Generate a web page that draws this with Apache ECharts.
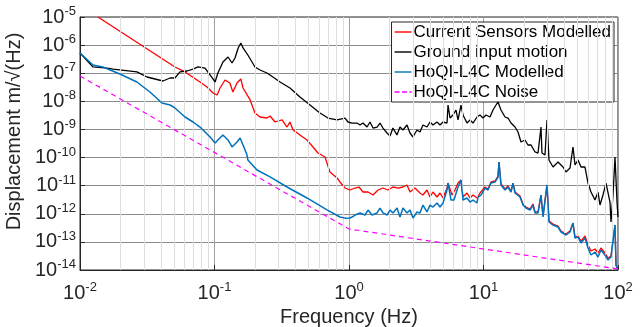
<!DOCTYPE html>
<html>
<head>
<meta charset="utf-8">
<script src="https://cdn.jsdelivr.net/npm/echarts@6/dist/echarts.min.js"></script>
<style>
  html, body { margin: 0; padding: 0; background: #fff; }
  #chart { width: 644px; height: 327px; }
</style>
</head>
<body>
<div id="chart"></div>
<script>
// [frequency (Hz), displacement m/sqrt(Hz)]
var currentSensors = [
    [0.0136, 1.0e-5], [0.0508, 1.67e-7], [0.0604, 1.11e-7], [0.078, 4.88e-8], [0.088, 3.24e-8],
    [0.0975, 1.98e-8], [0.1045, 1.68e-8], [0.110, 2.98e-8], [0.1197, 5.74e-8], [0.130, 4.49e-8],
    [0.137, 2.15e-8], [0.147, 4.49e-8], [0.157, 6.23e-8], [0.163, 2.98e-8], [0.184, 1.12e-8],
    [0.200, 3.85e-9], [0.218, 2.77e-9], [0.2455, 2.55e-9], [0.259, 3.01e-9], [0.282, 1.84e-9],
    [0.318, 2.17e-9], [0.346, 1.22e-9], [0.364, 1.84e-9], [0.384, 9.57e-10], [0.432, 6.35e-10],
    [0.487, 4.22e-10], [0.54, 2.38e-10], [0.588, 1.45e-10], [0.663, 1.05e-10], [0.722, 3.07e-11],
    [0.815, 1.88e-11], [0.857, 1.35e-11], [0.934, 8.25e-12], [1.017, 7.01e-12], [1.108, 8.25e-12],
    [1.187, 8.96e-12], [1.271, 5.95e-12], [1.385, 5.95e-12], [1.509, 4.65e-12], [1.644, 7.01e-12],
    [1.790, 8.25e-12], [1.950, 7.01e-12], [2.123, 8.96e-12], [2.313, 8.25e-12], [2.520, 8.96e-12],
    [2.699, 1.06e-11], [2.841, 5.95e-12], [3.094, 8.25e-12], [3.371, 5.48e-12], [3.548, 4.65e-12],
    [3.801, 7.01e-12], [4.001, 3.95e-12], [4.212, 5.95e-12], [4.511, 3.95e-12], [4.749, 5.48e-12],
    [4.999, 3.64e-12], [5.355, 8.25e-12], [5.447, 1.24e-11], [5.833, 4.65e-12], [6.140, 7.01e-12],
    [6.463, 1.24e-11], [6.803, 1.59e-11], [7.041, 3.95e-12], [7.542, 5.48e-12], [7.940, 3.64e-12],
    [8.358, 4.65e-12], [8.947, 3.64e-12], [9.419, 5.48e-12], [9.581, 5.48e-12], [10.26, 8.96e-12],
    [10.80, 7.60e-12], [11.37, 1.35e-11], [12.18, 1.47e-11], [12.82, 2.20e-11], [13.04, 6.94e-11],
    [13.49, 1.15e-11], [14.45, 7.60e-12], [15.21, 9.72e-12], [16.02, 6.46e-12], [16.57, 1.24e-11],
    [17.15, 5.95e-12], [18.68, 4.29e-12], [19.66, 2.23e-12], [20.70, 1.74e-12], [22.17, 1.48e-12],
    [23.34, 2.23e-12], [24.16, 1.16e-12], [25.43, 1.16e-12], [26.76, 4.65e-12], [27.70, 8.33e-13],
    [29.66, 1.06e-11], [30.69, 5.53e-13], [32.87, 4.33e-13], [35.81, 3.67e-13], [37.70, 2.44e-13],
    [41.07, 1.91e-13], [43.97, 2.44e-13], [46.29, 4.69e-13], [47.90, 1.49e-13], [50.42, 1.62e-13],
    [53.08, 1.07e-13], [56.84, 1.62e-13], [59.84, 7.74e-14], [63.00, 4.74e-14], [67.45, 5.58e-14],
    [71.01, 4.02e-14], [74.74, 6.06e-14], [80.03, 4.02e-14], [84.27, 2.67e-14], [88.72, 3.14e-14],
    [94.99, 4.0e-13], [96.62, 1.51e-14], [100, 1.0e-14]
];
var groundMotion = [
    [0.01, 5.24e-7], [0.0125, 1.67e-7], [0.0159, 1.53e-7], [0.0176, 1.41e-7], [0.0265, 1.11e-7],
    [0.0315, 7.34e-8], [0.0414, 5.29e-8], [0.0467, 6.76e-8], [0.0508, 6.76e-8], [0.0554, 1.11e-7],
    [0.0625, 1.20e-7], [0.0692, 1.41e-7], [0.0754, 1.67e-7], [0.085, 1.53e-7], [0.0927, 8.65e-8],
    [0.101, 4.88e-8], [0.106, 1.02e-7], [0.1156, 2.51e-7], [0.126, 3.78e-7], [0.135, 2.31e-7],
    [0.142, 3.48e-7], [0.150, 7.9e-7], [0.157, 1.19e-6], [0.163, 7.9e-7], [0.177, 4.45e-7],
    [0.200, 1.67e-7], [0.218, 1.30e-7], [0.2455, 1.02e-7], [0.272, 7.34e-8], [0.307, 4.88e-8],
    [0.364, 2.98e-8], [0.432, 1.43e-8], [0.513, 7.41e-9], [0.608, 3.85e-9], [0.698, 2.55e-9],
    [0.815, 2.17e-9], [0.934, 2.55e-9], [0.983, 1.84e-9], [1.053, 1.69e-9], [1.147, 1.69e-9],
    [1.207, 1.44e-9], [1.271, 1.69e-9], [1.361, 1.22e-9], [1.433, 1.84e-9], [1.509, 1.12e-9],
    [1.616, 1.22e-9], [1.701, 1.69e-9], [1.790, 1.12e-9], [1.917, 7.47e-10], [2.018, 5.84e-10],
    [2.123, 1.12e-9], [2.274, 6.34e-10], [2.394, 1.22e-9], [2.520, 9.55e-10], [2.699, 1.44e-9],
    [2.841, 7.47e-10], [2.990, 5.38e-10], [3.202, 9.55e-10], [3.371, 8.11e-10], [3.548, 1.44e-9],
    [3.801, 1.22e-9], [4.001, 1.84e-9], [4.212, 1.44e-9], [4.511, 1.84e-9], [4.749, 1.44e-9],
    [4.999, 1.84e-9], [5.355, 1.69e-9], [5.447, 7.40e-9], [5.636, 2.55e-9], [5.934, 3.26e-9],
    [6.246, 4.91e-9], [6.463, 2.17e-9], [6.803, 7.40e-9], [7.041, 3.26e-9], [7.542, 1.69e-9],
    [7.940, 2.17e-9], [8.358, 1.69e-9], [8.947, 2.77e-9], [9.419, 3.26e-9], [9.916, 2.55e-9],
    [10.44, 3.26e-9], [11.18, 2.77e-9], [11.77, 4.91e-9], [12.39, 7.40e-9], [12.82, 9.47e-9],
    [13.49, 4.91e-9], [14.45, 2.77e-9], [15.21, 2.55e-9], [16.02, 1.69e-9], [17.15, 1.22e-9],
    [18.05, 8.11e-10], [19.00, 3.57e-10], [20.35, 4.21e-10], [21.42, 2.80e-10], [22.56, 2.80e-10],
    [24.16, 1.58e-10], [25.43, 1.45e-10], [26.76, 1.22e-9], [27.22, 1.45e-10], [28.66, 1.23e-10],
    [29.66, 2.17e-9], [30.69, 8.18e-11], [32.87, 4.61e-11], [35.81, 6.94e-11], [39.01, 4.61e-11],
    [41.07, 3.06e-11], [43.97, 4.25e-11], [46.29, 2.37e-10], [47.90, 5.43e-11], [50.42, 8.18e-11],
    [53.08, 4.61e-11], [56.84, 4.61e-11], [59.84, 1.24e-11], [63.00, 5.95e-12], [67.45, 3.09e-12],
    [71.01, 5.95e-12], [73.48, 2.05e-12], [77.34, 4.65e-12], [81.42, 1.24e-11], [87.20, 2.62e-12],
    [88.72, 5.09e-13], [91.80, 4.65e-12], [94.99, 1.05e-10], [98.31, 2.62e-12], [100, 7.67e-13]
];
var hoqiModelled = [
    [0.01, 5.24e-7], [0.0125, 1.96e-7], [0.0148, 1.67e-7], [0.0198, 9.4e-8], [0.0265, 4.88e-8],
    [0.0331, 2.15e-8], [0.0407, 8.73e-9], [0.0467, 7.41e-9], [0.0508, 5.80e-9], [0.0604, 2.77e-9],
    [0.0692, 1.84e-9], [0.078, 1.22e-9], [0.0927, 5.39e-10], [0.101, 3.30e-10], [0.106, 4.22e-10],
    [0.1156, 6.35e-10], [0.126, 4.22e-10], [0.135, 2.38e-10], [0.147, 3.58e-10], [0.155, 4.97e-10],
    [0.163, 2.80e-10], [0.1745, 1.23e-10], [0.177, 8.19e-11], [0.207, 3.61e-11], [0.259, 2.04e-11],
    [0.346, 8.97e-12], [0.487, 3.65e-12], [0.686, 1.37e-12], [0.857, 7.69e-13], [0.934, 7.0e-13],
    [0.966, 6.53e-13], [1.017, 7.07e-13], [1.053, 7.67e-13], [1.108, 9.04e-13], [1.207, 1.07e-12],
    [1.315, 9.04e-13], [1.385, 1.36e-12], [1.483, 9.04e-13], [1.616, 1.07e-12], [1.701, 1.60e-12],
    [1.790, 1.07e-12], [1.917, 9.04e-13], [2.018, 1.36e-12], [2.123, 1.07e-12], [2.274, 1.60e-12],
    [2.394, 7.67e-13], [2.520, 1.60e-12], [2.699, 1.07e-12], [2.841, 1.36e-12], [2.990, 7.07e-13],
    [3.202, 1.16e-12], [3.371, 1.07e-12], [3.548, 2.05e-12], [3.801, 1.16e-12], [4.001, 2.05e-12],
    [4.212, 1.74e-12], [4.511, 2.42e-12], [4.749, 1.74e-12], [4.999, 2.42e-12], [5.355, 7.01e-12],
    [5.447, 1.24e-11], [5.734, 3.09e-12], [6.036, 3.09e-12], [6.463, 8.96e-12], [6.803, 1.59e-11],
    [7.041, 3.09e-12], [7.542, 3.64e-12], [7.940, 2.62e-12], [8.358, 3.09e-12], [8.947, 2.42e-12],
    [9.102, 3.95e-12], [9.581, 4.65e-12], [10.26, 8.25e-12], [10.80, 7.01e-12], [11.37, 1.24e-11],
    [12.18, 1.35e-11], [12.82, 2.03e-11], [13.04, 6.94e-11], [13.49, 1.06e-11], [14.45, 7.01e-12],
    [15.21, 8.96e-12], [16.02, 5.95e-12], [16.57, 1.24e-11], [17.15, 5.48e-12], [18.68, 3.95e-12],
    [19.66, 2.05e-12], [20.70, 1.60e-12], [22.17, 1.36e-12], [23.34, 2.05e-12], [24.16, 1.07e-12],
    [25.43, 1.07e-12], [26.76, 4.65e-12], [27.70, 7.67e-13], [29.66, 1.06e-11], [30.69, 5.09e-13],
    [32.87, 3.98e-13], [35.81, 3.38e-13], [37.70, 2.25e-13], [41.07, 1.76e-13], [43.97, 2.25e-13],
    [46.29, 4.69e-13], [47.90, 1.37e-13], [50.42, 1.49e-13], [53.08, 9.12e-14], [56.84, 1.37e-13],
    [59.84, 6.06e-14], [63.00, 3.41e-14], [67.45, 4.36e-14], [71.01, 2.90e-14], [74.74, 5.14e-14],
    [80.03, 3.41e-14], [84.27, 2.27e-14], [88.72, 2.90e-14], [94.99, 4.0e-13], [96.62, 1.51e-14],
    [100, 1.0e-14]
];
var hoqiNoise = [[0.01, 7.96e-8], [1, 2.88e-13], [100, 1.09e-14]];

var seriesNames = ['Current Sensors Modelled', 'Ground input motion', 'HoQI-L4C Modelled', 'HoQI-L4C Noise'];

var chart = echarts.init(document.getElementById('chart'));

// minor grid lines at 2..9 of every decade
var minorX = [], minorY = [];
for (var d = -2; d < 2; d++) {
    for (var k = 2; k < 10; k++) minorX.push({ xAxis: k * Math.pow(10, d) });
}
for (var e = -14; e < -5; e++) {
    for (var k = 2; k < 10; k++) minorY.push({ yAxis: k * Math.pow(10, e) });
}

function pow10Label(v) {
    var p = Math.round(Math.log10(v));
    return '10{s|' + p + '}';
}
var richLabel = {
    s: { fontSize: 13, fontFamily: 'Liberation Sans', color: '#262626', verticalAlign: 'top', padding: [0, 0, 11, 0] }
};

var solidIcon = 'path://M0,0H17V1.4H0Z';
var dashIcon = 'path://M0,0H5V1.4H0Z M7.5,0H12.5V1.4H7.5Z M15,0H17V1.4H15Z';

var option = {
    animation: false,
    textStyle: { fontFamily: 'Liberation Sans' },
    grid: {
        left: 80, right: 26, top: 17, bottom: 57,
        outerBoundsMode: 'none',
        show: true, borderColor: '#262626', borderWidth: 1
    },
    legend: {
        data: [
            { name: seriesNames[0], icon: solidIcon },
            { name: seriesNames[1], icon: solidIcon },
            { name: seriesNames[2], icon: solidIcon },
            { name: seriesNames[3], icon: dashIcon }
        ],
        orient: 'vertical',
        right: 30,
        top: 22,
        backgroundColor: '#fff',
        borderColor: '#262626',
        borderWidth: 1,
        borderRadius: 0,
        padding: [0, 3, 0, 3],
        itemWidth: 17,
        itemHeight: 2,
        itemGap: 0,
        textStyle: { fontSize: 17, lineHeight: 20, color: '#000', fontFamily: 'Liberation Sans', padding: [0, 0, 0, -3] }
    },
    xAxis: {
        type: 'log',
        logBase: 10,
        min: 0.01,
        max: 100,
        name: 'Frequency (Hz)',
        nameLocation: 'middle',
        nameGap: 36,
        nameTextStyle: { fontSize: 20, color: '#262626' },
        axisLine: { lineStyle: { color: '#262626' } },
        axisTick: { inside: true, length: 5, lineStyle: { color: '#262626' } },
        axisLabel: { color: '#262626', fontSize: 20, margin: 11, formatter: pow10Label, rich: richLabel },
        splitLine: { show: true, lineStyle: { color: '#a0a0a0', width: 1 } }
    },
    yAxis: {
        type: 'log',
        logBase: 10,
        min: 1e-14,
        max: 1e-5,
        interval: 1,
        name: 'Displacement m/\u221A(Hz)',
        nameLocation: 'middle',
        nameGap: 46,
        nameTextStyle: { fontSize: 20, color: '#262626', padding: [0, 0, 0, 24] },
        axisLine: { lineStyle: { color: '#262626' } },
        axisTick: { inside: true, length: 5, lineStyle: { color: '#262626' } },
        axisLabel: { color: '#262626', fontSize: 20, margin: 4, formatter: pow10Label, rich: richLabel },
        splitLine: { show: true, lineStyle: { color: '#8c8c8c', width: 1 } }
    },
    series: [
        {
            name: 'grid',
            type: 'line',
            data: [],
            z: 0,
            silent: true,
            markLine: {
                silent: true,
                symbol: 'none',
                label: { show: false },
                lineStyle: { color: '#dedede', width: 1, type: 'solid' },
                data: minorX.concat(minorY)
            }
        },
        {
            name: seriesNames[0], type: 'line', data: currentSensors, showSymbol: false, symbol: 'none',
            lineStyle: { color: '#ff0000', width: 1.3 }, itemStyle: { color: '#ff0000' }, z: 3
        },
        {
            name: seriesNames[1], type: 'line', data: groundMotion, showSymbol: false, symbol: 'none',
            lineStyle: { color: '#000000', width: 1.3 }, itemStyle: { color: '#000000' }, z: 4
        },
        {
            name: seriesNames[2], type: 'line', data: hoqiModelled, showSymbol: false, symbol: 'none',
            lineStyle: { color: '#0072bd', width: 1.5 }, itemStyle: { color: '#0072bd' }, z: 5
        },
        {
            name: seriesNames[3], type: 'line', data: hoqiNoise, showSymbol: false, symbol: 'none',
            lineStyle: { color: '#ff00ff', width: 1.2, type: [5, 4] }, itemStyle: { color: '#ff00ff' }, z: 6
        }
    ]
};
chart.setOption(option);
</script>
</body>
</html>
